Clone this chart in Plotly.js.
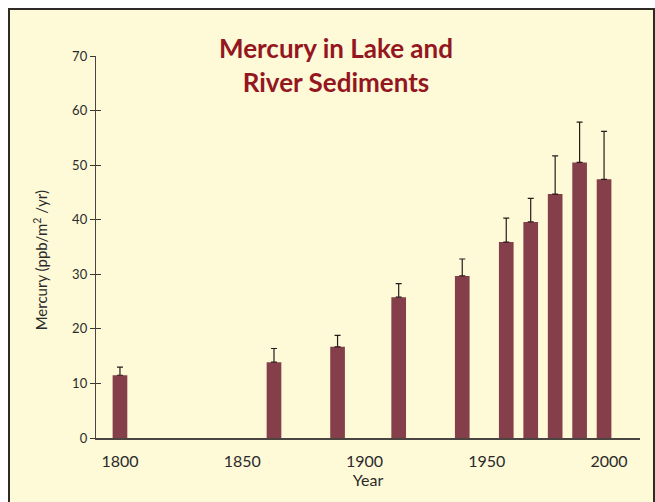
<!DOCTYPE html>
<html>
<head>
<meta charset="utf-8">
<script src="https://cdn.plot.ly/plotly-3.0.1.min.js"></script>
<style>
  html, body { margin: 0; padding: 0; background: #ffffff; width: 655px; height: 502px; overflow: hidden; }
  #frame { position: absolute; left: 8px; top: 8px; width: 643px; height: 494px;
           border: 2px solid #2e2a26; border-bottom: none; background: #fef9d7; }
  #chart { width: 643px; height: 494px; }
</style>
</head>
<body>
<div id="frame"><div id="chart"></div></div>
<script>
const years = [1800, 1863, 1889, 1914, 1940, 1958, 1968, 1978, 1988, 1998];
const mercury = [11.5, 13.9, 16.7, 25.8, 29.7, 35.9, 39.6, 44.7, 50.5, 47.4];
const errorUp = [1.5, 2.5, 2.1, 2.5, 3.1, 4.4, 4.3, 7.0, 7.4, 8.8];
const yTicks = [0, 10, 20, 30, 40, 50, 60, 70];
const xTicks = [1800, 1850, 1900, 1950, 2000];

const font = "Lato, 'Open Sans', sans-serif";

const trace = {
  type: 'bar',
  x: years,
  y: mercury,
  width: 6,
  marker: { color: '#843f4b', line: { width: 0 } },
  error_y: { type: 'data', symmetric: false, array: errorUp, arrayminus: mercury.map(() => 0),
             color: '#2b1a1c', thickness: 1.2, width: 3 },
  hoverinfo: 'x+y',
  showlegend: false
};

const layout = {
  width: 643, height: 494,
  paper_bgcolor: 'rgba(0,0,0,0)',
  plot_bgcolor: 'rgba(0,0,0,0)',
  margin: { l: 86, r: 13, t: 46, b: 66 },
  title: {
    text: 'Mercury in Lake and<br>River Sediments',
    font: { family: font, size: 26, color: '#94161f', weight: 'bold' },
    xref: 'container', x: 0.507, xanchor: 'center',
    yref: 'container', y: 0.902, yanchor: 'top'
  },
  xaxis: {
    range: [1790.2, 2012.7],
    tickvals: xTicks, ticktext: xTicks.map(String),
    ticks: '', showgrid: false, zeroline: false,
    showline: true, linecolor: '#4a4540', linewidth: 1.5,
    ticklabelstandoff: 8,
    tickfont: { family: font, size: 16, color: '#2a2a2a' },
    title: { text: 'Year', font: { family: font, size: 16, color: '#2a2a2a' }, standoff: 2 }
  },
  yaxis: {
    range: [0, 70],
    tickvals: yTicks, ticktext: yTicks.map(String),
    ticks: 'outside', ticklen: 5, tickwidth: 1, tickcolor: '#3a3530',
    showgrid: false, zeroline: false,
    showline: true, linecolor: '#4a4540', linewidth: 1.2,
    tickfont: { family: font, size: 13, color: '#2a2a2a' }
  },
  yaxis2: {
    overlaying: 'y', side: 'left', range: [0, 70],
    tickvals: yTicks, showticklabels: false,
    ticks: 'inside', ticklen: 5, tickwidth: 1, tickcolor: '#3a3530',
    showgrid: false, zeroline: false, showline: false
  },
  annotations: [{
    text: 'Mercury (ppb/m<sup>2</sup> /yr)',
    textangle: -90, showarrow: false,
    xref: 'paper', x: -0.103, xanchor: 'center',
    yref: 'paper', y: 0.465, yanchor: 'middle',
    font: { family: font, size: 15, color: '#2a2a2a' }
  }]
};

const dummy = { type: 'scatter', x: [], y: [], yaxis: 'y2', showlegend: false, hoverinfo: 'skip' };

Plotly.newPlot('chart', [trace, dummy], layout, { displayModeBar: false, staticPlot: true });
</script>
</body>
</html>
